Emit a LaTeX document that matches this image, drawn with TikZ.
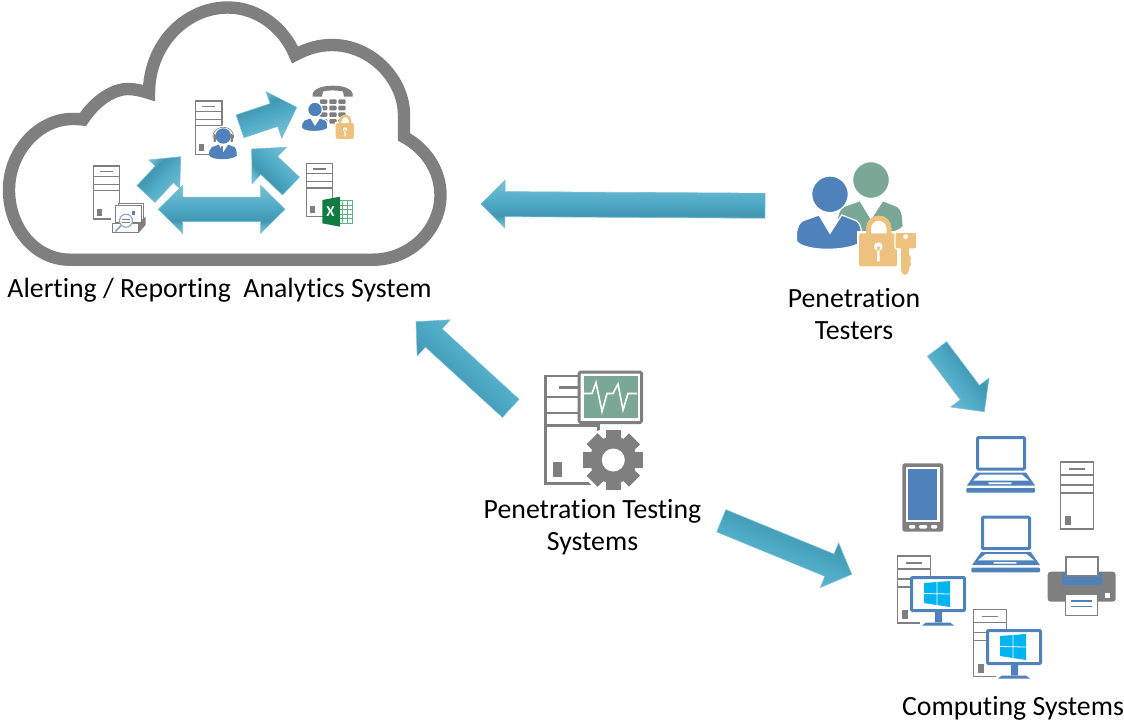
\documentclass[tikz,border=0pt]{standalone}
\usepackage{fontspec}
\setmainfont[Ligatures=NoCommon]{Carlito}
\usetikzlibrary{calc, positioning}

\definecolor{iconGray}{HTML}{7F7F7F}
\definecolor{iconBlue}{HTML}{4F81BA}
\definecolor{iconGreen}{HTML}{7BA896}
\definecolor{iconGold}{HTML}{EDC17E}
\definecolor{iconSky}{HTML}{00B4F0}
\definecolor{excelDark}{HTML}{107C41}
\definecolor{excelLine}{HTML}{5FAE84}
\definecolor{arrowEdge}{HTML}{74C0D6}
\definecolor{arrowHi}{HTML}{74BDD3}
\definecolor{arrowMid}{HTML}{4EAAC6}
\definecolor{arrowLo}{HTML}{4297B2}

\pgfdeclareverticalshading{arrowbar}{100bp}{color(0bp)=(arrowHi); color(28bp)=(arrowHi); color(38bp)=(arrowLo); color(52bp)=(arrowMid); color(72bp)=(arrowHi); color(100bp)=(arrowHi)}

% tail, tip, shaft half width, head half width, head length, shading angle
\newcommand{\blockarrow}[6]{
	\coordinate (hb) at ($(#2)!#5pt!(#1)$);
	\path[arrowfill, shading angle=#6]
	($(#1)!#3pt!90:(#2)$) -- ($(hb)!#3pt!90:(#2)$) -- ($(hb)!#4pt!90:(#2)$) -- (#2)
	-- ($(hb)!#4pt!-90:(#2)$) -- ($(hb)!#3pt!-90:(#2)$) -- ($(#1)!#3pt!-90:(#2)$) -- cycle;
}
% tip, tip, shaft half width, head half width, head length
\newcommand{\dualarrow}[5]{
	\coordinate (ha) at ($(#1)!#5pt!(#2)$);
	\coordinate (hb) at ($(#2)!#5pt!(#1)$);
	\path[arrowfill]
	(#1) -- ($(ha)!#4pt!90:(#2)$) -- ($(ha)!#3pt!90:(#2)$) -- ($(hb)!#3pt!90:(#2)$) -- ($(hb)!#4pt!90:(#2)$) -- (#2)
	-- ($(hb)!#4pt!-90:(#2)$) -- ($(hb)!#3pt!-90:(#2)$) -- ($(ha)!#3pt!-90:(#2)$) -- ($(ha)!#4pt!-90:(#2)$) -- cycle;
}

\tikzset{
	server/.pic={
		\draw[draw=iconGray, fill=white] (0, 0) rectangle (33, 67);
		\draw[draw=iconGray] (0, 13) -- (33, 13) (0, 23) -- (33, 23) (0, 31) -- (33, 31) (8.5, 7) -- (24.5, 7);
		\fill[iconGray] (4.5, 54) rectangle (10.5, 63);
	},
	person/.pic={
		\path[pic actions] (-.6, 1.13) -- (0, 2.13) -- (.64, 1.13) -- (1.45, 1.45) .. controls (1.7, 1.6) and (1.75, 2.1) .. (1.75, 2.55)
		.. controls (1.3, 3.1) and (-1.3, 3.2) .. (-1.82, 2.58) .. controls (-1.85, 2.1) and (-1.85, 1.7) .. (-1.5, 1.45) -- cycle;
		\path[pic actions] (0, 0) circle (1);
	},
	padlock/.pic={
		\fill[white] (9.5, 2) -- (9.5, -5) .. controls (9.5, -10.6) and (14, -15.25) .. (19.75, -15.25) .. controls (25.4, -15.25) and (30, -10.6) .. (30, -5) -- (30, 2) -- cycle;
		\draw[iconGold] (9.5, 2) -- (9.5, -5) .. controls (9.5, -10.6) and (14, -15.25) .. (19.75, -15.25) .. controls (25.4, -15.25) and (30, -10.6) .. (30, -5) -- (30, 2);
		\fill[iconGold, rounded corners=2pt] (0, 0) rectangle (38, 33);
		\fill[white] (19.3, 13.3) circle (4.3) (18, 13) rectangle (20.7, 28);
	},
	screenpc/.pic={
		\fill[white] (10, 36) rectangle (46, 51);
		\draw[iconBlue, line width=3pt, fill=white, rounded corners=1pt] (1.5, 1.5) rectangle (54.5, 34.5);
		\fill[iconBlue] (25, 36) rectangle (32, 47) (12, 49.5) -- (16, 46.5) -- (40, 46.5) -- (44, 49.5) -- cycle;
		\fill[iconSky] (14, 7) -- (40, 5) -- (40, 31) -- (14, 27) -- cycle;
		\draw[white, line width=.8pt] (27, 5) -- (27, 31) (14, 17.5) -- (40, 18);
	},
	laptop/.pic={
		\draw[iconBlue, line width=3pt, fill=white, rounded corners=1pt] (1.5, 1.5) rectangle (48.5, 33);
		\fill[iconBlue] (0, 36.5) -- (50, 36.5) -- (59, 49.5) -- (-9, 49.5) -- cycle;
		\fill[white] (4.3, 38.5) -- (45.7, 38.5) -- (53, 44.7) -- (-3, 44.7) -- cycle (12.7, 46.3) rectangle (35.3, 48);
		\fill[iconBlue, rounded corners=1pt] (-9.7, 52) rectangle (59, 56.7);
	}
}

\begin{document}
\begin{tikzpicture}[x=1pt, y=-1pt, font=\fontsize{27.8}{32}\selectfont, line join=miter]
	\tikzstyle{arrowfill} = [shade, shading=arrowbar, draw=arrowEdge, line width=.6pt]
	\tikzstyle{caption} = [align=center, inner sep=0pt, text=black]
	\tikzstyle{halo} = [draw=white, line width=1pt]

	\useasboundingbox (0, 0) rectangle (1124, 721);

	% cloud
	\draw[iconGray, line width=12.4pt, fill=white]
	(70, 259.7) .. controls (35, 259.7) and (9, 228) .. (9, 190) .. controls (9, 150) and (40, 119) .. (72, 119) .. controls (76, 119) and (80, 119) .. (83, 119.5)
	.. controls (95, 101) and (113, 89) .. (128, 89) .. controls (135, 89) and (143, 91) .. (149, 93)
	.. controls (149, 45) and (185, 7.5) .. (228, 7.5) .. controls (258, 7.5) and (284, 28) .. (295, 55)
	.. controls (308, 48) and (320, 45) .. (332, 45) .. controls (372, 45) and (404, 80) .. (404, 115) .. controls (404, 122) and (404, 130) .. (404, 137)
	.. controls (425, 148) and (440.5, 170) .. (440.5, 195) .. controls (440.5, 230) and (410, 259.7) .. (373, 259.7) -- cycle;

	% report server
	\pic[scale=.79, line width=1.3pt] at (93.5, 166) {server};
	\fill[white] (111, 203) rectangle (146, 233);
	\draw[iconGray, line width=.7pt, fill=white] (118, 203) rectangle (143.5, 219);
	\draw[iconGray, line width=.7pt, fill=white] (115, 205.5) rectangle (141, 222);
	\fill[iconBlue] (131.5, 211) rectangle (134.5, 214.5);
	\fill[iconGray] (139, 223.5) -- (145.5, 216.5) -- (145.5, 225) -- (139, 232.5) -- cycle;
	\draw[iconGray, line width=1pt, fill=white] (112, 223.5) rectangle (138.5, 232);
	\draw[iconBlue!70, line width=1.6pt] (121, 225.5) -- (115.5, 231.5);
	\draw[iconBlue!70, line width=1.1pt, fill=white] (126, 220.7) circle (6.5);
	\draw[iconGray, line width=.5pt] (122, 219) -- (130, 219) (122, 222) -- (130, 222);

	% agent server
	\pic[scale=.8, line width=1.3pt] at (195.5, 101) {server};
	\fill[white] (223.3, 136) circle (10.5);
	\draw[iconGray, line width=.6pt] (213, 138) .. controls (212.5, 131) and (217, 127.3) .. (223.3, 127.3) .. controls (229.5, 127.3) and (234, 131) .. (233.5, 138);
	\pic[scale=7.7, fill=iconBlue] at (223.3, 136) {person};
	\fill[iconGray, rounded corners=1pt] (213.5, 134) rectangle (216, 142) (230.5, 134) rectangle (233, 142);

	% excel server
	\pic[scale=.79, line width=1.1pt] at (306.5, 163.5) {server};
	\draw[excelLine, fill=white, line width=.6pt] (338, 200) rectangle (352.5, 223.3);
	\draw[excelLine, line width=.5pt] (342, 200) -- (342, 223) (347, 200) -- (347, 223) (338, 205) -- (352, 205) (338, 209.5) -- (352, 209.5) (338, 214) -- (352, 214) (338, 218.5) -- (352, 218.5);
	\fill[excelDark] (322.3, 200) -- (340, 196.7) -- (340, 226.7) -- (322.3, 223.3) -- cycle;
	\node[text=white, inner sep=0pt, font=\fontsize{15}{15}\selectfont\bfseries] at (330.5, 211.5) (excelmark) {X};

	% phone user
	\fill[iconGray] (312.7, 96.7) .. controls (311, 90) and (320, 85.7) .. (333, 85.7) .. controls (346, 85.7) and (354, 90) .. (352.7, 96.7) -- (344, 96.7) -- (343, 91.5) .. controls (335, 90) and (330, 90) .. (323, 91.5) -- (322, 96.7) -- cycle;
	\foreach \kx in {320, 329.3, 338.3}
	\foreach \ky in {99.3, 105.7, 112.3, 119}
	\fill[iconGray, rounded corners=1pt] (\kx, \ky) rectangle ++(7.3, 4.6);
	\pic[scale=7.3, fill=iconBlue, halo] at (315, 109.5) {person};
	\fill[white] (334.5, 122) rectangle (355, 137);
	\pic[scale=.48, line width=2.4pt] at (335.7, 123) {padlock};

	% testers
	\pic[scale=18.3, fill=iconGreen, halo] at (871, 180) {person};
	\pic[scale=18.3, fill=iconBlue, halo, line width=1.2pt] at (830, 194.3) {person};
	\draw[white, line width=2pt, fill=white] (858, 232) rectangle (898, 267);
	\pic[line width=5pt] at (859, 233.3) {padlock};
	\draw[white, line width=1.2pt, fill=iconGold, rounded corners=2pt] (895, 232.3) rectangle (916.7, 249);
	\fill[iconGold, rounded corners=1.5pt] (901, 245) -- (909, 245) -- (909, 256) -- (912, 258) -- (909, 261) -- (912, 264) -- (909, 267) -- (909, 272) -- (905, 275.5) -- (901, 272) -- cycle;
	\fill[white] (905.7, 236.7) circle (2.5);

	% testing system
	\pic[scale=1.6, line width=2.6pt] at (545.5, 376) {server};
	\draw[iconGray, line width=3pt, fill=white, rounded corners=1.5pt] (579, 372) rectangle (641.5, 422.5);
	\fill[iconGreen] (583.5, 376) rectangle (638, 417.5);
	\draw[white, line width=1.6pt] (583.5, 393.5) -- (592, 393.5) -- (596, 382.5) -- (602, 411.5) -- (607, 393.5) -- (613, 393.5) -- (618, 384) -- (623, 410) -- (628, 393.5) -- (637, 393.5);
	\fill[white] (613.3, 460) circle (33);
	\foreach \ta in {0, 45, ..., 315}
	\fill[iconGray, rotate around={\ta:(613.3, 460)}] (605.5, 430) rectangle (621.1, 445);
	\fill[iconGray] (613.3, 460) circle (23.5);
	\fill[white] (613.3, 460) circle (11.5);

	% computing systems
	\fill[iconGray, rounded corners=2.5pt] (902.3, 463.3) rectangle (943.3, 531.7);
	\fill[white] (906, 466.7) rectangle (940, 522);
	\fill[iconBlue] (908, 469) rectangle (937.3, 520);
	\fill[white, rounded corners=1pt] (909, 525) rectangle (915, 528.5) (919, 525) rectangle (927, 528.5) (931, 525) rectangle (937, 528.5);
	\pic at (976, 436) {laptop};
	\pic at (981, 515.7) {laptop};
	\pic[line width=1.4pt] at (1060.7, 462) {server};
	\pic[line width=1.2pt] at (897.3, 556) {server};
	\pic at (910, 576) {screenpc};
	\pic[line width=1.2pt] at (973.3, 609.5) {server};
	\pic at (986, 629) {screenpc};
	\fill[iconGray, rounded corners=3pt] (1047.7, 571.7) rectangle (1115.7, 601.7);
	\fill[iconBlue] (1061.7, 572) rectangle (1101.7, 585);
	\draw[iconGray, line width=2pt, fill=white] (1066.3, 556.7) rectangle (1098, 576);
	\fill[white] (1105, 592.7) rectangle (1110, 597.7);
	\draw[iconGray, line width=1pt, fill=white] (1065.8, 594.5) rectangle (1097.5, 615);
	\draw[iconBlue, line width=1.3pt] (1070.7, 601) -- (1092.3, 601) (1070.7, 606.7) -- (1092.3, 606.7);

	% arrow ends
	\coordinate (reportOut) at (146, 194);
	\coordinate (agentIn) at (180.7, 156.7);
	\coordinate (excelOut) at (291, 186);
	\coordinate (agentInB) at (251.7, 149);
	\coordinate (agentOut) at (240, 126.3);
	\coordinate (phoneIn) at (296.7, 107.3);
	\coordinate (reportEnd) at (158.3, 209.3);
	\coordinate (excelEnd) at (285, 209.3);
	\coordinate (testersOut) at (765, 205.7);
	\coordinate (cloudIn) at (481, 204);
	\coordinate (systemOut) at (510.7, 408.3);
	\coordinate (cloudInB) at (416, 321.7);
	\coordinate (testersDown) at (937, 349);
	\coordinate (computeIn) at (984.3, 411.7);
	\coordinate (systemDown) at (721.3, 520.8);
	\coordinate (computeInB) at (851.7, 574.3);

	\blockarrow{reportOut}{agentIn}{12.3}{21}{24}{225}
	\blockarrow{excelOut}{agentInB}{12.3}{25}{24}{-45}
	\blockarrow{agentOut}{phoneIn}{12}{24.5}{24}{200}
	\dualarrow{reportEnd}{excelEnd}{12.2}{24}{24.4}
	\blockarrow{testersOut}{cloudIn}{12.5}{24}{24}{0}
	\blockarrow{systemOut}{cloudInB}{12.3}{24.5}{24}{-43}
	\blockarrow{testersDown}{computeIn}{12}{24}{24}{127}
	\blockarrow{systemDown}{computeInB}{12}{24}{24}{158}

	% labels
	\node[caption] at (219.5, 290) (alerting) {Alerting / Reporting\ \ Analytics System};
	\node[caption] at (854, 314.5) (testers) {Penetration\\Testers};
	\node[caption] at (592.5, 527.5) (testing) {Penetration Testing\\Systems};
	\node[caption] at (1013, 708) (computing) {Computing Systems};
\end{tikzpicture}
\end{document}
